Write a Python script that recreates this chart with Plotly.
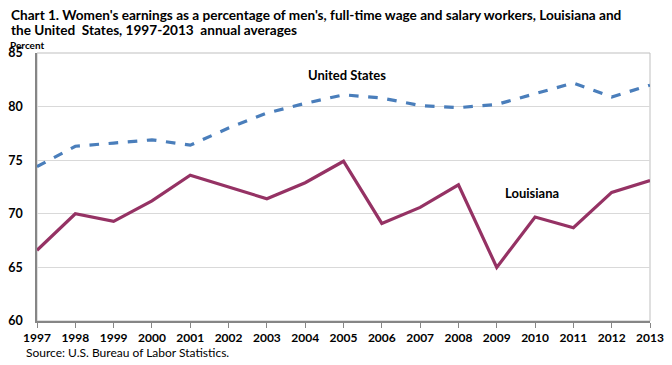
import plotly.graph_objects as go

years = list(range(1997, 2014))
us_values = [74.4, 76.3, 76.6, 76.9, 76.4, 78.0, 79.4, 80.3, 81.1, 80.8, 80.1, 79.9, 80.2, 81.2, 82.2, 80.9, 82.0]
la_values = [66.6, 70.0, 69.3, 71.2, 73.6, 72.5, 71.4, 72.9, 74.9, 69.1, 70.6, 72.7, 65.0, 69.7, 68.7, 72.0, 73.1]
y_ticks = [60, 65, 70, 75, 80, 85]
title_lines = ["Chart 1. Women's earnings as a percentage of men's, full-time wage and salary workers, Louisiana and",
               "the United  States, 1997-2013  annual averages"]

FONT = "Lato"
OFF = 8  # page body margin
W, H = 672 - OFF, 365 - OFF
# plot area in window pixels: left 37, top 53, right 650, bottom 321
PL, PT, PR, PB = 37, 53, 650, 321
L, T = PL - OFF, PT - OFF
R, B = W - (PR - OFF), H - (PB - OFF)
PW, PH = PR - PL, PB - PT


def px_x(px):
    return (px - PL) / PW


def px_y(py):
    return (PB - py) / PH


fig = go.Figure()
fig.add_trace(go.Scatter(x=years, y=us_values, mode="lines", name="United States",
                         line=dict(color="#4A7EBB", width=3.2, dash="dash"), showlegend=False))
fig.add_trace(go.Scatter(x=years, y=la_values, mode="lines", name="Louisiana",
                         line=dict(color="#953264", width=3.2), showlegend=False))

annotations = [
    dict(text=title_lines[0], xref="paper", yref="paper", x=px_x(10), y=px_y(15.5),
         xanchor="left", yanchor="middle", showarrow=False, borderpad=0,
         font=dict(family=FONT, size=13.6, color="black", weight="bold")),
    dict(text=title_lines[1], xref="paper", yref="paper", x=px_x(10), y=px_y(30),
         xanchor="left", yanchor="middle", showarrow=False, borderpad=0,
         font=dict(family=FONT, size=13.6, color="black", weight="bold")),
    dict(text="Percent", xref="paper", yref="paper", x=px_x(9), y=px_y(44.5),
         xanchor="left", yanchor="middle", showarrow=False, borderpad=0,
         font=dict(family=FONT, size=10, color="black", weight="bold")),
    dict(text="United States", x=2005.1, y=82.97, xref="x", yref="y",
         showarrow=False, font=dict(family=FONT, size=13, color="black", weight="bold")),
    dict(text="Louisiana", x=2009.93, y=71.94, xref="x", yref="y",
         showarrow=False, font=dict(family=FONT, size=13, color="black", weight="bold")),
    dict(text="Source: U.S. Bureau of Labor Statistics.", xref="paper", yref="paper",
         x=px_x(24), y=px_y(352), xanchor="left", yanchor="middle", showarrow=False,
         font=dict(family=FONT, size=12, color="black")),
]

fig.update_layout(
    width=W, height=H,
    margin=dict(l=L, r=R, t=T, b=B, autoexpand=False),
    paper_bgcolor="white", plot_bgcolor="white",
    font=dict(family=FONT, color="black"),
    xaxis=dict(
        range=[1997, 2013], tickvals=years, ticktext=[str(y) for y in years],
        showgrid=False, zeroline=False, automargin=False,
        showline=True, linecolor="#868686", linewidth=1.5,
        ticks="outside", ticklen=5, tickcolor="#868686",
        tickfont=dict(family=FONT, size=12, color="black", weight="bold"),
    ),
    yaxis=dict(
        range=[60, 85], tickvals=y_ticks, automargin=False,
        showgrid=True, gridcolor="#D9D9D9", gridwidth=1, zeroline=False,
        showline=True, linecolor="#868686", linewidth=1.5,
        ticks="", ticklabelstandoff=10,
        tickfont=dict(family=FONT, size=12.5, color="black", weight="bold"),
    ),
    shapes=[dict(type="rect", xref="paper", yref="paper", x0=0, x1=1, y0=0, y1=1,
                 line=dict(color="#BFBFBF", width=1), layer="below")],
    annotations=annotations,
)

fig.write_html("out.html")
